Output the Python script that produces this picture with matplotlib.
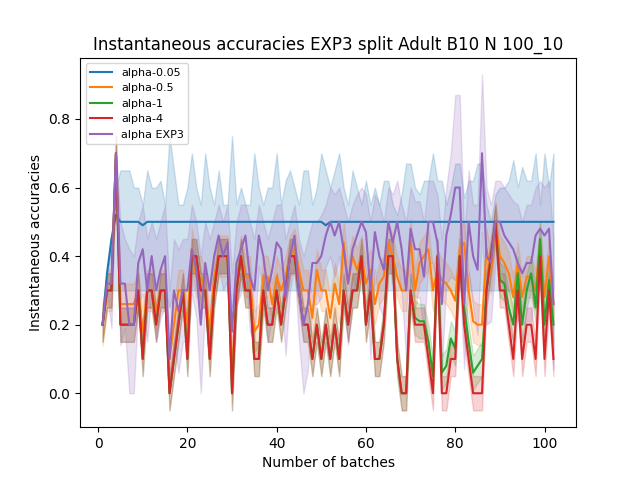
import numpy as np
import matplotlib.pyplot as plt

batches = np.arange(1, 103)

# mean accuracies
alpha_4 = [0.2, 0.3, 0.3, 0.7, 0.2, 0.2, 0.2, 0.2, 0.3, 0.1, 0.3, 0.3, 0.2, 0.3, 0.3, 0.0, 0.1, 0.2, 0.3, 0.1,
           0.4, 0.4, 0.3, 0.3, 0.1, 0.3, 0.4, 0.4, 0.4, 0.0, 0.3, 0.4, 0.3, 0.3, 0.1, 0.1, 0.3, 0.2, 0.2, 0.3,
           0.2, 0.3, 0.4, 0.4, 0.3, 0.2, 0.2, 0.1, 0.2, 0.1, 0.2, 0.1, 0.2, 0.1, 0.3, 0.2, 0.3, 0.3, 0.4, 0.2,
           0.3, 0.1, 0.1, 0.2, 0.4, 0.4, 0.1, 0.0, 0.0, 0.3, 0.2, 0.2, 0.2, 0.1, 0.0, 0.4, 0.0, 0.0, 0.1, 0.1,
           0.4, 0.2, 0.1, 0.0, 0.0, 0.0, 0.3, 0.4, 0.5, 0.3, 0.3, 0.2, 0.1, 0.3, 0.1, 0.2, 0.2, 0.1, 0.4, 0.1,
           0.3, 0.1]
alpha_1 = [0.2, 0.3, 0.3, 0.7, 0.2, 0.2, 0.2, 0.2, 0.3, 0.1, 0.3, 0.3, 0.2, 0.3, 0.3, 0.0, 0.1, 0.2, 0.3, 0.1,
           0.4, 0.4, 0.3, 0.3, 0.1, 0.3, 0.4, 0.4, 0.4, 0.0, 0.3, 0.4, 0.3, 0.3, 0.1, 0.1, 0.3, 0.2, 0.2, 0.3,
           0.2, 0.3, 0.4, 0.4, 0.3, 0.2, 0.2, 0.1, 0.2, 0.1, 0.2, 0.1, 0.2, 0.1, 0.3, 0.2, 0.3, 0.3, 0.4, 0.2,
           0.3, 0.1, 0.1, 0.2, 0.4, 0.4, 0.1, 0.0, 0.0, 0.3, 0.22, 0.21, 0.21, 0.15, 0.05, 0.4, 0.06, 0.08, 0.16, 0.13,
           0.4, 0.25, 0.15, 0.06, 0.08, 0.1, 0.3, 0.4, 0.5, 0.33, 0.32, 0.25, 0.2, 0.35, 0.2, 0.3, 0.35, 0.25, 0.45, 0.2,
           0.33, 0.2]
alpha_05 = [0.2, 0.3, 0.3, 0.7, 0.26, 0.26, 0.26, 0.26, 0.3, 0.18, 0.3, 0.3, 0.24, 0.3, 0.3, 0.1, 0.2, 0.3, 0.3, 0.2,
            0.42, 0.34, 0.34, 0.3, 0.18, 0.34, 0.4, 0.4, 0.4, 0.06, 0.3, 0.4, 0.34, 0.34, 0.18, 0.2, 0.34, 0.34, 0.26, 0.34,
            0.3, 0.34, 0.4, 0.42, 0.36, 0.3, 0.3, 0.22, 0.36, 0.3, 0.3, 0.22, 0.32, 0.26, 0.44, 0.32, 0.4, 0.36, 0.4, 0.32,
            0.36, 0.26, 0.32, 0.34, 0.44, 0.4, 0.34, 0.3, 0.3, 0.45, 0.3, 0.38, 0.4, 0.42, 0.3, 0.36, 0.33, 0.32, 0.3, 0.27,
            0.42, 0.44, 0.3, 0.21, 0.2, 0.2, 0.42, 0.35, 0.5, 0.4, 0.38, 0.35, 0.28, 0.38, 0.28, 0.34, 0.34, 0.3, 0.44, 0.28,
            0.4, 0.26]
alpha_005 = [0.2, 0.35, 0.45, 0.52, 0.5, 0.5, 0.5, 0.5, 0.5, 0.49, 0.5, 0.5, 0.5, 0.5, 0.5, 0.5, 0.5, 0.5, 0.5, 0.5,
             0.5, 0.5, 0.5, 0.5, 0.5, 0.5, 0.5, 0.5, 0.5, 0.5, 0.5, 0.5, 0.5, 0.5, 0.5, 0.5, 0.5, 0.5, 0.5, 0.5,
             0.5, 0.5, 0.5, 0.5, 0.5, 0.5, 0.5, 0.5, 0.5, 0.5, 0.49, 0.5, 0.5, 0.5, 0.5, 0.5, 0.5, 0.5, 0.5, 0.5,
             0.5, 0.5, 0.5, 0.5, 0.5, 0.5, 0.5, 0.5, 0.5, 0.5, 0.5, 0.5, 0.5, 0.5, 0.5, 0.5, 0.5, 0.5, 0.5, 0.5,
             0.5, 0.5, 0.5, 0.5, 0.5, 0.5, 0.5, 0.5, 0.5, 0.5, 0.5, 0.5, 0.5, 0.5, 0.5, 0.5, 0.5, 0.5, 0.5, 0.5,
             0.5, 0.5]
alpha_exp3 = [0.2, 0.32, 0.32, 0.7, 0.32, 0.32, 0.2, 0.2, 0.38, 0.42, 0.3, 0.4, 0.3, 0.36, 0.4, 0.1, 0.3, 0.24, 0.3, 0.3,
              0.42, 0.36, 0.2, 0.38, 0.3, 0.4, 0.46, 0.4, 0.44, 0.18, 0.38, 0.42, 0.46, 0.34, 0.3, 0.46, 0.4, 0.3, 0.36, 0.44,
              0.42, 0.28, 0.4, 0.46, 0.3, 0.2, 0.26, 0.38, 0.38, 0.4, 0.46, 0.5, 0.46, 0.5, 0.42, 0.32, 0.42, 0.46, 0.5, 0.47,
              0.3, 0.47, 0.4, 0.36, 0.5, 0.44, 0.5, 0.42, 0.3, 0.48, 0.42, 0.42, 0.34, 0.5, 0.5, 0.44, 0.26, 0.46, 0.52, 0.6,
              0.6, 0.26, 0.5, 0.4, 0.36, 0.7, 0.4, 0.38, 0.5, 0.5, 0.46, 0.44, 0.42, 0.38, 0.35, 0.38, 0.38, 0.46, 0.48, 0.46,
              0.48, 0.26]

# upper edge of the alpha-0.05 band
blue_hi = [0.2, 0.35, 0.45, 0.6, 0.65, 0.65, 0.65, 0.6, 0.6, 0.55, 0.65, 0.6, 0.6, 0.62, 0.55, 0.75, 0.65, 0.55, 0.55, 0.6,
           0.7, 0.6, 0.55, 0.7, 0.6, 0.55, 0.65, 0.55, 0.55, 0.75, 0.55, 0.6, 0.55, 0.55, 0.7, 0.6, 0.55, 0.6, 0.6, 0.7,
           0.55, 0.62, 0.65, 0.6, 0.55, 0.65, 0.65, 0.55, 0.6, 0.7, 0.65, 0.6, 0.65, 0.7, 0.6, 0.55, 0.65, 0.6, 0.55, 0.62,
           0.55, 0.6, 0.55, 0.62, 0.62, 0.55, 0.52, 0.58, 0.67, 0.67, 0.6, 0.58, 0.62, 0.62, 0.7, 0.62, 0.62, 0.55, 0.6, 0.67,
           0.67, 0.57, 0.62, 0.62, 0.67, 0.67, 0.55, 0.5, 0.58, 0.6, 0.6, 0.62, 0.68, 0.6, 0.66, 0.62, 0.62, 0.7, 0.55, 0.7,
           0.6, 0.7]
# upper edge of the alpha EXP3 band
purple_hi = [0.2, 0.35, 0.45, 0.7, 0.5, 0.45, 0.42, 0.4, 0.5, 0.55, 0.45, 0.5, 0.45, 0.5, 0.55, 0.3, 0.45, 0.42, 0.45, 0.45,
             0.55, 0.5, 0.4, 0.5, 0.45, 0.5, 0.55, 0.5, 0.55, 0.35, 0.5, 0.55, 0.55, 0.5, 0.45, 0.55, 0.5, 0.45, 0.5, 0.55,
             0.55, 0.45, 0.5, 0.55, 0.45, 0.4, 0.45, 0.5, 0.5, 0.52, 0.55, 0.6, 0.58, 0.6, 0.55, 0.5, 0.55, 0.58, 0.6, 0.58,
             0.5, 0.58, 0.55, 0.5, 0.6, 0.58, 0.62, 0.55, 0.5, 0.6, 0.56, 0.56, 0.5, 0.62, 0.62, 0.58, 0.45, 0.6, 0.7, 0.87,
             0.87, 0.45, 0.65, 0.55, 0.55, 0.93, 0.6, 0.55, 0.62, 0.62, 0.6, 0.58, 0.56, 0.55, 0.5, 0.55, 0.55, 0.6, 0.62, 0.6,
             0.62, 0.45]

series = [alpha_005, alpha_05, alpha_1, alpha_4, alpha_exp3]
labels = ['alpha-0.05', 'alpha-0.5', 'alpha-1', 'alpha-4', 'alpha EXP3']
uppers = [blue_hi, None, None, None, purple_hi]
spreads = [None, 0.06, 0.05, 0.05, None]

fig, ax = plt.subplots(figsize=(6.4, 4.8))
for i, (vals, lab, up, sp) in enumerate(zip(series, labels, uppers, spreads)):
    vals = np.array(vals)
    color = 'C%d' % i
    ax.plot(batches, vals, color=color, label=lab)
    if up is not None:
        hi = np.array(up)
        lo = np.minimum(np.clip(2 * vals - hi, 0, None), vals)
        if i == 0:
            lo = np.minimum(lo, 0.3)
    else:
        hi = vals + sp
        lo = vals - sp
    ax.fill_between(batches, lo, hi, color=color, alpha=0.2)

ax.set_title('Instantaneous accuracies EXP3 split Adult B10 N 100_10')
ax.set_xlabel('Number of batches')
ax.set_ylabel('Instantaneous accuracies')
ax.legend(loc='upper left', fontsize=8)
plt.savefig('out.png', dpi=100)
